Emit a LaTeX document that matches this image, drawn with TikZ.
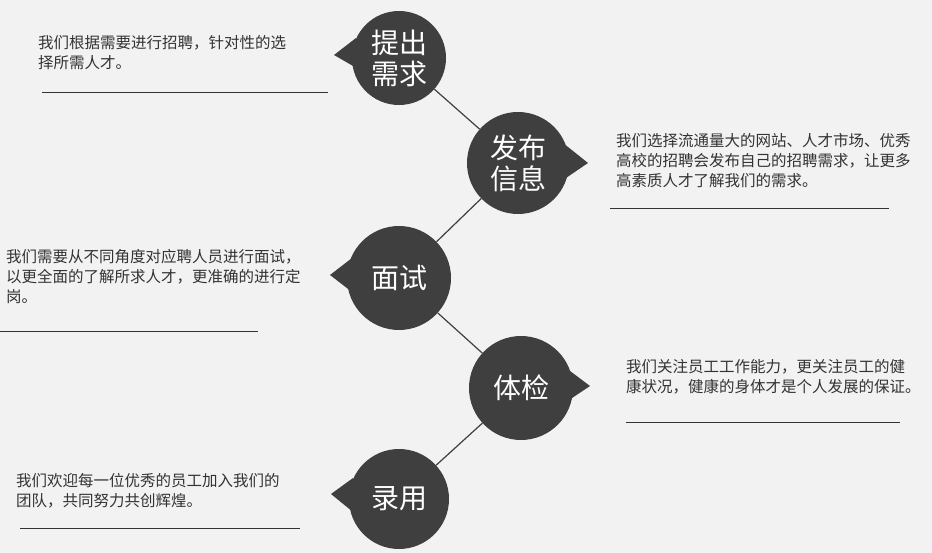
\documentclass[tikz,border=0pt]{standalone}
\usepackage{fontspec}
\setmainfont{Noto Sans CJK SC}
\begin{document}
\begin{tikzpicture}[x=1pt,y=-1pt,
  circ/.style={circle,fill=dg,text=white,inner sep=0pt,align=center,font=\fontsize{28}{31}\selectfont},
  body/.style={anchor=north west,align=left,text=txt,font=\fontsize{15.5}{20}\selectfont,inner sep=0pt},
  rule/.style={draw=txt,line width=1pt},
  link/.style={draw=dg,line width=1.2pt}]
\definecolor{dg}{HTML}{3F3F3F}
\definecolor{txt}{HTML}{333333}
\definecolor{bg}{HTML}{F2F2F2}
\fill[bg] (0,0) rectangle (932,553);
\useasboundingbox (0,0) rectangle (932,553);
\node[circ,minimum size=94pt] (c1) at (399,58) {提出\\需求};
\node[circ,minimum size=102pt] (c2) at (518,163) {发布\\信息};
\node[circ,minimum size=104pt] (c3) at (399,278) {面试};
\node[circ,minimum size=104pt] (c4) at (521,388) {体检};
\node[circ,minimum size=100pt] (c5) at (399,499) {录用};
\draw[link] (c1) -- (c2); \draw[link] (c2) -- (c3);
\draw[link] (c3) -- (c4); \draw[link] (c4) -- (c5);
% pointers
\fill[dg] (356,38) -- (334,55) -- (360,70) -- cycle;
\fill[dg] (563,143) -- (588,163) -- (563,180) -- cycle;
\fill[dg] (352,258) -- (330,275) -- (352,292) -- cycle;
\fill[dg] (566,368) -- (590,386) -- (566,402) -- cycle;
\fill[dg] (353,478) -- (331,494) -- (353,512) -- cycle;
\node[body] (t1) at (38,35) {我们根据需要进行招聘，针对性的选\\择所需人才。};
\draw[rule] (42,93) -- (328,93);
\node[body] (t2) at (616,133) {我们选择流通量大的网站、人才市场、优秀\\高校的招聘会发布自己的招聘需求，让更多\\高素质人才了解我们的需求。};
\draw[rule] (610,209) -- (889,209);
\node[body] (t3) at (6,249) {我们需要从不同角度对应聘人员进行面试，\\以更全面的了解所求人才，更准确的进行定\\岗。};
\draw[rule] (0,332) -- (258,332);
\node[body] (t4) at (626,359) {我们关注员工工作能力，更关注员工的健\\康状况，健康的身体才是个人发展的保证。};
\draw[rule] (626,422) -- (900,422);
\node[body] (t5) at (16,473) {我们欢迎每一位优秀的员工加入我们的\\团队，共同努力共创辉煌。};
\draw[rule] (20,528) -- (300,528);
\end{tikzpicture}
\end{document}
